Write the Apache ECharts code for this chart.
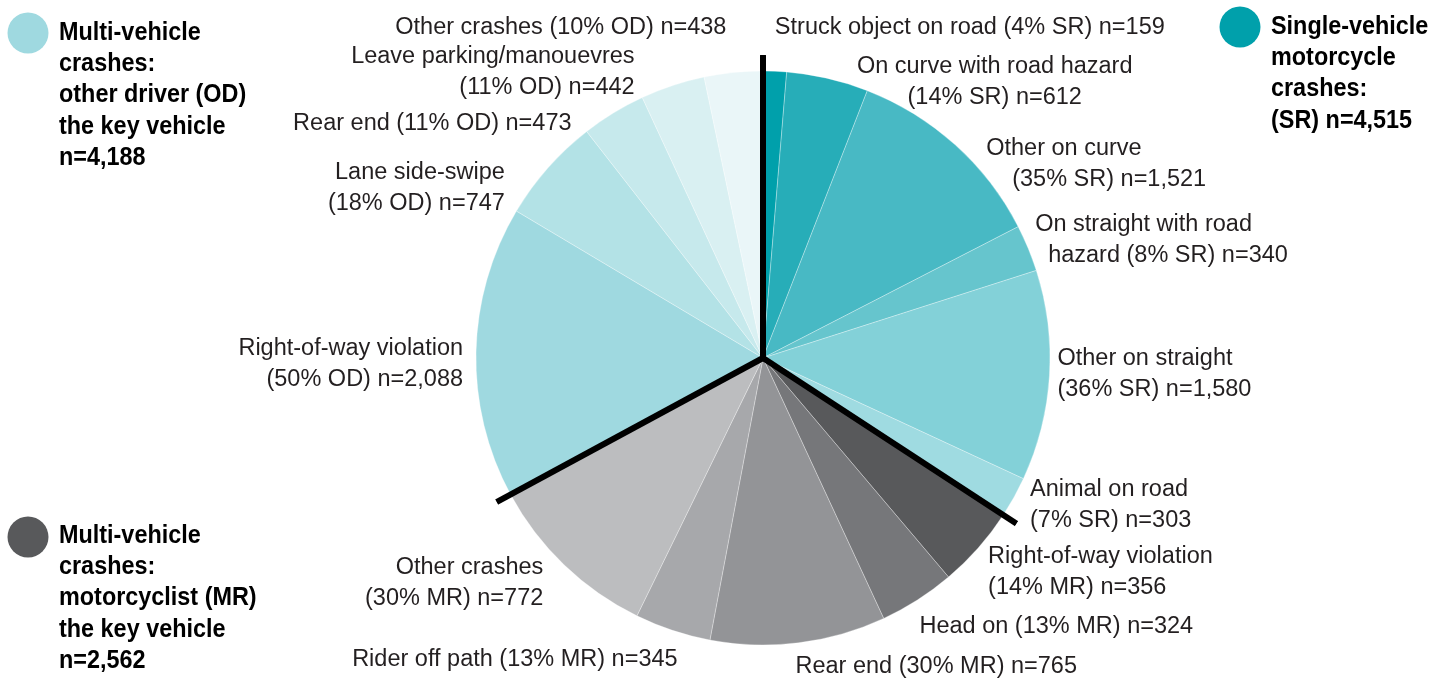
<!DOCTYPE html>
<html>
<head>
<meta charset="utf-8">
<script src="https://cdn.jsdelivr.net/npm/echarts/dist/echarts.min.js"></script>
<style>
  html, body { margin: 0; padding: 0; background: #ffffff; }
  #chart { width: 1430px; height: 678px; }
</style>
</head>
<body>
<div id="chart"></div>
<script>
// ---------------- DATA ----------------
const categories = [
  'Struck object on road', 'On curve with road hazard', 'Other on curve',
  'On straight with road hazard', 'Other on straight', 'Animal on road',
  'Right-of-way violation', 'Head on', 'Rear end', 'Rider off path', 'Other crashes',
  'Right-of-way violation', 'Lane side-swipe', 'Rear end', 'Leave parking/manouevres', 'Other crashes'
];
const groups = ['SR', 'SR', 'SR', 'SR', 'SR', 'SR', 'MR', 'MR', 'MR', 'MR', 'MR', 'OD', 'OD', 'OD', 'OD', 'OD'];
const percents = [4, 14, 35, 8, 36, 7, 14, 13, 30, 13, 30, 50, 18, 11, 11, 10];
const counts = [159, 612, 1521, 340, 1580, 303, 356, 324, 765, 345, 772, 2088, 747, 473, 442, 438];
const groupOrder = ['SR', 'MR', 'OD'];
const groupLegendText = {
  SR: 'Single-vehicle\nmotorcycle\ncrashes:\n(SR) n=',
  MR: 'Multi-vehicle\ncrashes:\nmotorcyclist (MR)\nthe key vehicle\nn=',
  OD: 'Multi-vehicle\ncrashes:\nother driver (OD)\nthe key vehicle\nn='
};

// ---------------- STYLE / LAYOUT ----------------
const sliceColors = [
  '#00a0ab', '#27adb8', '#48b9c4', '#66c5cd', '#83d1d8', '#9fdbe1',
  '#58595b', '#76777a', '#939497', '#a7a8ab', '#bcbdbf',
  '#9fd9e0', '#b3e2e6', '#c6e9ec', '#d9f0f2', '#eaf6f8'
];
const groupColors = { SR: '#00a0ab', MR: '#58595b', OD: '#9fd9e0' };
// [circle cx, circle cy, text x, text top y]
const legendPos = { SR: [1240, 27, 1271, 11], MR: [28, 537, 59, 520], OD: [28, 33, 59, 17] };
const labelLayouts = [
  { dx: 0, dy: -44, align: 'left' },
  { dx: 167, dy: 4, align: 'center', wrap: '(' },
  { dx: 31, dy: 19, align: 'left', wrap: '(', indent: 26 },
  { dx: 7, dy: -8, align: 'left', wrap: 'hazard', indent: 13 },
  { dx: 8, dy: -2, align: 'left', wrap: '(' },
  { dx: 16, dy: 8, align: 'left', wrap: '(' },
  { dx: 10, dy: 24, align: 'left', wrap: '(' },
  { dx: 2, dy: 27, align: 'left' },
  { dx: -3, dy: 24, align: 'left' },
  { dx: 5, dy: 29, align: 'right' },
  { dx: -21, dy: 18, align: 'right', wrap: '(' },
  { dx: -13, dy: 12, align: 'right', wrap: '(' },
  { dx: -43, dy: 20, align: 'right', wrap: '(' },
  { dx: -42, dy: 11, align: 'right' },
  { dx: -38, dy: -14, align: 'right', wrap: '(' },
  { dx: -7, dy: -45, align: 'right' }
];

const CX = 763, CY = 358, R = 287, SEP_R = 303;
const FONT = '"Liberation Sans", Arial, sans-serif';
const LABEL_SIZE = 23.5;
const TEXT_COLOR = '#231f20';
const LINE_H = 31;

const fmt = n => n.toLocaleString('en-US');
const total = percents.reduce((a, b) => a + b, 0);
const cum = [];
percents.reduce((acc, v, i) => { cum[i] = acc; return acc + v; }, 0);

function labelText(i) {
  const full = categories[i] + ' (' + percents[i] + '% ' + groups[i] + ') n=' + fmt(counts[i]);
  const L = labelLayouts[i];
  const key = 'b' + (L.indent || 0);
  if (!L.wrap) return '{a|' + full + '}';
  const idx = full.indexOf(' ' + L.wrap);
  return '{a|' + full.slice(0, idx) + '}\n{' + key + '|' + full.slice(idx + 1) + '}';
}

const rich = { a: { fontFamily: FONT, fontSize: LABEL_SIZE, lineHeight: LINE_H, color: TEXT_COLOR } };
labelLayouts.forEach(L => {
  const k = 'b' + (L.indent || 0);
  rich[k] = { fontFamily: FONT, fontSize: LABEL_SIZE, lineHeight: LINE_H, color: TEXT_COLOR, padding: [0, 0, 0, L.indent || 0] };
});

const pieData = categories.map((c, i) => ({
  name: c + ' ' + groups[i],
  value: percents[i],
  itemStyle: { color: sliceColors[i] }
}));

// Separator lines at each group start (polar coords: [radius, angle])
const groupStarts = groupOrder.map(g => cum[groups.indexOf(g)]);
const sepSeries = groupStarts.map(a => ({
  type: 'line',
  coordinateSystem: 'polar',
  data: [[0, a], [1, a]],
  symbol: 'none',
  clip: false,
  silent: true,
  animation: false,
  z: 10,
  lineStyle: { color: '#000000', width: 6, cap: 'butt' }
}));

// Legend graphics
const graphics = [];
groupOrder.forEach(g => {
  const p = legendPos[g];
  const n = counts.reduce((s, v, i) => s + (groups[i] === g ? v : 0), 0);
  graphics.push({
    type: 'circle', shape: { cx: p[0], cy: p[1], r: 20.5 },
    style: { fill: groupColors[g] }, silent: true
  });
  graphics.push({
    type: 'text', x: p[2], y: p[3], scaleX: 0.9,
    style: {
      text: groupLegendText[g] + fmt(n),
      font: 'bold 26px ' + FONT,
      lineHeight: 31.3,
      fill: '#000000',
      verticalAlign: 'top'
    },
    silent: true
  });
});

const chart = echarts.init(document.getElementById('chart'), null, { renderer: 'canvas' });
chart.setOption({
  animation: false,
  backgroundColor: '#ffffff',
  polar: { center: [CX, CY], radius: SEP_R },
  angleAxis: { type: 'value', min: 0, max: total, startAngle: 90, clockwise: true, show: false },
  radiusAxis: { type: 'value', min: 0, max: 1, show: false },
  graphic: graphics,
  series: [
    {
      type: 'pie',
      center: [CX, CY],
      radius: [0, R],
      startAngle: 90,
      clockwise: true,
      avoidLabelOverlap: false,
      silent: true,
      itemStyle: { borderColor: 'rgba(255,255,255,0.5)', borderWidth: 0.6 },
      label: {
        show: true,
        position: 'outside',
        formatter: p => labelText(p.dataIndex),
        rich: rich,
        fontFamily: FONT,
        fontSize: LABEL_SIZE,
        lineHeight: LINE_H,
        color: TEXT_COLOR
      },
      labelLine: { show: false },
      labelLayout: function (params) {
        const i = params.dataIndex;
        const L = labelLayouts[i];
        const ang = (cum[i] + percents[i] / 2) / total * Math.PI * 2;
        const ex = CX + R * Math.sin(ang);
        const ey = CY - R * Math.cos(ang);
        return { x: ex + L.dx, y: ey + L.dy, align: L.align, verticalAlign: 'middle' };
      },
      data: pieData
    }
  ].concat(sepSeries)
});
</script>
</body>
</html>
